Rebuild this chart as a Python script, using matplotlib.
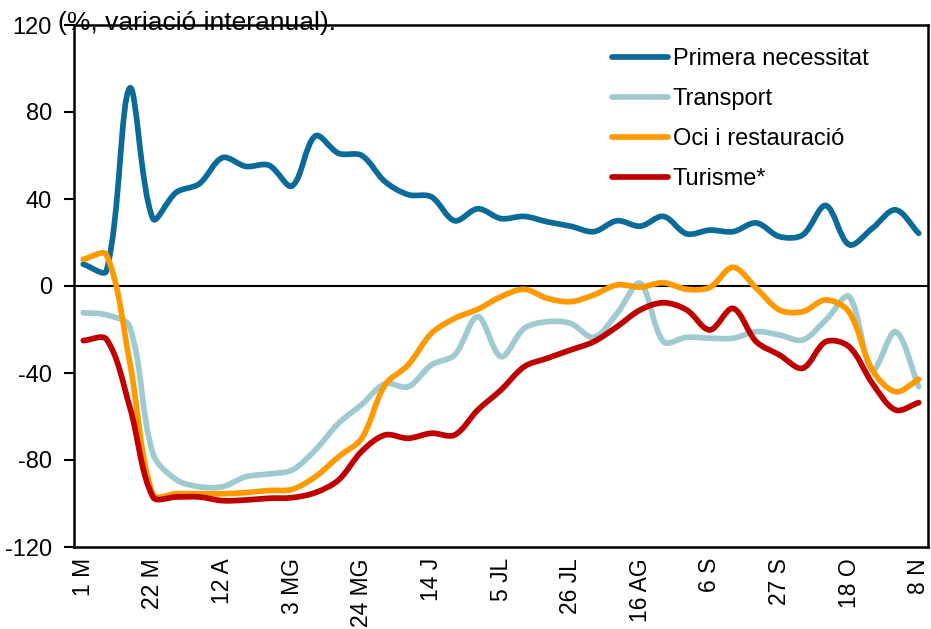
import matplotlib
matplotlib.use("Agg")
import matplotlib.pyplot as plt
from matplotlib.path import Path
from matplotlib.patches import PathPatch
from matplotlib.lines import Line2D
import numpy as np

plt.rcParams['font.family'] = ['Liberation Sans', 'DejaVu Sans']

# ---- data (weekly, 1 March to 8 November) ----
tick_labels = ['1 M', '22 M', '12 A', '3 MG', '24 MG', '14 J', '5 JL', '26 JL',
               '16 AG', '6 S', '27 S', '18 O', '8 N']

primera = [10, 7, 91, 31, 43, 47, 59, 55, 55.5, 46, 69, 61, 60, 48, 42, 41, 30, 35.5,
           31, 32, 29.5, 27.5, 25, 30, 27.5, 32, 24, 25.7, 25, 29, 22.7, 23.5, 37, 19,
           26.5, 35, 24.2]
transport = [-12.3, -13.3, -18.7, -77, -89, -92.3, -92.3, -87.7, -86.4, -84.6, -75.4,
             -63.1, -54.5, -45, -46.3, -36.3, -31.7, -14.1, -32.5, -19.5, -16.4, -17.2,
             -23.6, -12.6, 1.2, -25.6, -23.6, -24, -24, -21, -22.5, -24.8, -15.6, -4.9,
             -38.6, -21, -46.3]
oci = [12.3, 14.3, -35, -96, -95.5, -95.5, -95.5, -95, -94, -93.5, -87.7, -78.5, -70,
       -45.5, -36.3, -21.8, -14.9, -10.7, -4.9, -1.5, -5.7, -7.2, -4.1, 0.5, -0.5, 1.5,
       -1.5, -0.6, 8.6, -1, -11, -11.8, -6.4, -12, -38.6, -48.6, -42.9]
turisme = [-25.1, -24.5, -55.5, -97, -97, -97, -98.7, -98.4, -97.6, -97.3, -95, -89.2,
           -76, -68.5, -70, -67.7, -68.5, -57, -47.8, -37.1, -33.2, -29.4, -25.6, -18.7,
           -11, -7.7, -11, -20.2, -10.3, -25.6, -31.7, -37.8, -25.6, -27.9, -44.7, -57,
           -53.6]

series_names = ['Primera necessitat', 'Transport', 'Oci i restauració', 'Turisme*']
series_vals = [primera, transport, oci, turisme]
colors = ['#0B6A98', '#9FCAD0', '#FF9900', '#C00000']

# approximate screen scale (px per x-index, px per y-unit), used only for smoothing shape
SX, SY = 23.2, 2.175


def smooth_path(xs, ys):
    """Smoothed line: cubic Bezier through every data point (chord-length tangents)."""
    pts = np.column_stack([np.asarray(xs, float) * SX, np.asarray(ys, float) * SY])
    n = len(pts)
    tang = np.zeros_like(pts)
    for i in range(n):
        p0 = pts[max(i - 1, 0)]
        p2 = pts[min(i + 1, n - 1)]
        d = np.linalg.norm(pts[i] - p0) + np.linalg.norm(p2 - pts[i])
        tang[i] = (p2 - p0) / d if d > 0 else 0
    verts = [pts[0]]
    codes = [Path.MOVETO]
    for i in range(n - 1):
        p1, p2 = pts[i], pts[i + 1]
        L = np.linalg.norm(p2 - p1)
        c1 = p1 + tang[i] * L / 3.0
        c2 = p2 - tang[i + 1] * L / 3.0
        verts += [c1, c2, p2]
        codes += [Path.CURVE4] * 3
    verts = np.array(verts) / np.array([SX, SY])
    return Path(verts, codes)


fig = plt.figure(figsize=(9.31, 6.29), dpi=100)
ax = fig.add_axes([74 / 931, 1 - 547 / 629, 854 / 931, 522 / 629])

x = np.arange(len(primera))
lw = 4.1
handles = []
for name, vals, col in zip(series_names, series_vals, colors):
    patch = PathPatch(smooth_path(x, vals), facecolor='none', edgecolor=col,
                      linewidth=lw, capstyle='round', joinstyle='round', zorder=3)
    ax.add_patch(patch)
    handles.append(Line2D([], [], color=col, linewidth=lw, solid_capstyle='round'))

ax.axhline(0, color='black', linewidth=1.5, zorder=2)

ax.set_xlim(-0.4, len(primera) - 1 + 0.4)
ax.set_ylim(-120, 120)
ax.set_yticks(np.arange(-120, 121, 40))
ax.set_yticklabels(['-120', '-80', '-40', '0', '40', '80', '120'])
ax.set_xticks(np.arange(0, len(primera), 3))
ax.set_xticklabels(tick_labels, rotation=90)

ax.tick_params(axis='y', direction='out', length=7, width=1.5, labelsize=17, pad=9)
ax.tick_params(axis='x', length=0, labelsize=16.5, pad=8)
for s in ax.spines.values():
    s.set_linewidth(1.8)
    s.set_color('black')

fig.text(58 / 931, 1 - 23 / 629, '(%, variació interanual).', fontsize=19,
         ha='left', va='center')

leg = ax.legend(handles, series_names, loc='upper left', bbox_to_anchor=(0.630, 0.956),
                frameon=False, fontsize=17, handlelength=2.37, handletextpad=0.2,
                labelspacing=0.76, borderaxespad=0, borderpad=0)

fig.savefig('out.png', dpi=100)
